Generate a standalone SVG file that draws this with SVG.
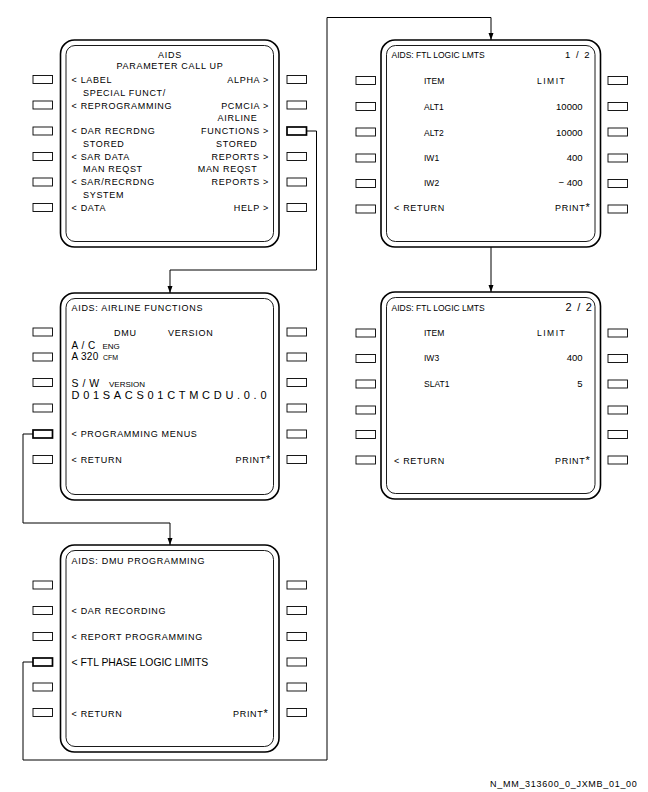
<svg xmlns="http://www.w3.org/2000/svg" width="648" height="792" viewBox="0 0 648 792">
<style>
text{font-family:"Liberation Sans",Arial,sans-serif;fill:#000}
.t{font-size:9px;letter-spacing:0.7px}
.s{font-size:8.5px}
.v{font-size:9.5px}
.e{text-anchor:end}
.m{text-anchor:middle}
.star{font-size:11px}
.outer{fill:#fff;stroke:#000;stroke-width:1.6}
.inner{fill:none;stroke:#000;stroke-width:0.9}
.btn{fill:#fff;stroke:#000;stroke-width:0.9}
.sel{stroke-width:1.7}
.conn{fill:none;stroke:#000;stroke-width:1}
</style>
<defs>
<marker id="arr" markerUnits="userSpaceOnUse" markerWidth="8" markerHeight="6" refX="7" refY="2.5" orient="auto">
<path d="M0,0 L7,2.5 L0,5 z" fill="#000"/>
</marker>
</defs>
<rect width="648" height="792" fill="#fff"/>

<g id="connectors">
<path class="conn" d="M306.5 131 H316.5 V270 H170 V293" marker-end="url(#arr)"/>
<path class="conn" d="M33 434 H23 V523 H170 V545" marker-end="url(#arr)"/>
<path class="conn" d="M33 662 H23 V760 H327 V17.5 H491 V40" marker-end="url(#arr)"/>
<path class="conn" d="M491 247 V292" marker-end="url(#arr)"/>
</g>

<g id="screen-parameter-callup">
<rect class="outer" x="60.5" y="40" width="218.5" height="207" rx="14"/>
<rect class="inner" x="66" y="45.5" width="207.5" height="196" rx="9"/>
<rect class="btn" x="33" y="75.5" width="19.5" height="8"/>
<rect class="btn" x="33" y="101" width="19.5" height="8"/>
<rect class="btn" x="33" y="127" width="19.5" height="8"/>
<rect class="btn" x="33" y="152.5" width="19.5" height="8"/>
<rect class="btn" x="33" y="178" width="19.5" height="8"/>
<rect class="btn" x="33" y="203.5" width="19.5" height="8"/>
<rect class="btn" x="287" y="75.5" width="19.5" height="8"/>
<rect class="btn" x="287" y="101" width="19.5" height="8"/>
<rect class="btn sel" x="287" y="127" width="19.5" height="8"/>
<rect class="btn" x="287" y="152.5" width="19.5" height="8"/>
<rect class="btn" x="287" y="178" width="19.5" height="8"/>
<rect class="btn" x="287" y="203.5" width="19.5" height="8"/>
<text class="t m" x="170" y="57.5">AIDS</text>
<text class="t m" x="170" y="68.5">PARAMETER CALL UP</text>
<text class="t" x="71.5" y="83">&lt; LABEL</text>
<text class="t" x="83" y="95.8">SPECIAL FUNCT/</text>
<text class="t" x="71.5" y="108.5">&lt; REPROGRAMMING</text>
<text class="t" x="71.5" y="134">&lt; DAR RECRDNG</text>
<text class="t" x="83" y="146.8">STORED</text>
<text class="t" x="71.5" y="159.5">&lt; SAR DATA</text>
<text class="t" x="83" y="172.3">MAN REQST</text>
<text class="t" x="71.5" y="185">&lt; SAR/RECRDNG</text>
<text class="t" x="83" y="197.8">SYSTEM</text>
<text class="t" x="71.5" y="210.5">&lt; DATA</text>
<text class="t e" x="269" y="83">ALPHA &gt;</text>
<text class="t e" x="269" y="108.5">PCMCIA &gt;</text>
<text class="t e" x="257.5" y="121.3">AIRLINE</text>
<text class="t e" x="269" y="134">FUNCTIONS &gt;</text>
<text class="t e" x="257.5" y="146.8">STORED</text>
<text class="t e" x="269" y="159.5">REPORTS &gt;</text>
<text class="t e" x="257.5" y="172.3">MAN REQST</text>
<text class="t e" x="269" y="185">REPORTS &gt;</text>
<text class="t e" x="269" y="210.5">HELP &gt;</text>
</g>

<g id="screen-airline-functions">
<rect class="outer" x="60.5" y="293" width="218.5" height="207" rx="14"/>
<rect class="inner" x="66" y="298.5" width="207.5" height="196" rx="9"/>
<rect class="btn" x="33" y="328" width="19.5" height="8"/>
<rect class="btn" x="33" y="353" width="19.5" height="8"/>
<rect class="btn" x="33" y="378.5" width="19.5" height="8"/>
<rect class="btn" x="33" y="404" width="19.5" height="8"/>
<rect class="btn sel" x="33" y="430" width="19.5" height="8"/>
<rect class="btn" x="33" y="455.5" width="19.5" height="8"/>
<rect class="btn" x="287" y="328" width="19.5" height="8"/>
<rect class="btn" x="287" y="353" width="19.5" height="8"/>
<rect class="btn" x="287" y="378.5" width="19.5" height="8"/>
<rect class="btn" x="287" y="404" width="19.5" height="8"/>
<rect class="btn" x="287" y="430" width="19.5" height="8"/>
<rect class="btn" x="287" y="455.5" width="19.5" height="8"/>
<text class="t" x="71.5" y="310.5">AIDS: AIRLINE FUNCTIONS</text>
<text class="t" x="114" y="336">DMU</text>
<text class="t" x="168" y="336">VERSION</text>
<text x="71.5" y="348.5" font-size="10" letter-spacing="0.5">A / C</text>
<text x="102.5" y="348.5" font-size="8">ENG</text>
<text x="71.5" y="360" font-size="10" letter-spacing="0.3">A 320</text>
<text x="103" y="360" font-size="7" fill="#333">CFM</text>
<text x="71.5" y="386.5" font-size="10.5" letter-spacing="0.5">S / W</text>
<text x="109" y="386.5" font-size="8">VERSION</text>
<text x="71.5" y="399" font-size="11" textLength="195" lengthAdjust="spacing">D01SACS01CTMCDU.0.0</text>
<text class="t" x="71.5" y="437">&lt; PROGRAMMING MENUS</text>
<text class="t" x="71.5" y="463">&lt; RETURN</text>
<text class="t e" x="271" y="463">PRINT<tspan class="star">*</tspan></text>
</g>

<g id="screen-dmu-programming">
<rect class="outer" x="60.5" y="545" width="218.5" height="207" rx="14"/>
<rect class="inner" x="66" y="550.5" width="207.5" height="196" rx="9"/>
<rect class="btn" x="33" y="581" width="19.5" height="8"/>
<rect class="btn" x="33" y="606.5" width="19.5" height="8"/>
<rect class="btn" x="33" y="632.5" width="19.5" height="8"/>
<rect class="btn sel" x="33" y="658" width="19.5" height="8"/>
<rect class="btn" x="33" y="683" width="19.5" height="8"/>
<rect class="btn" x="33" y="708.5" width="19.5" height="8"/>
<rect class="btn" x="287" y="581" width="19.5" height="8"/>
<rect class="btn" x="287" y="606.5" width="19.5" height="8"/>
<rect class="btn" x="287" y="632.5" width="19.5" height="8"/>
<rect class="btn" x="287" y="658" width="19.5" height="8"/>
<rect class="btn" x="287" y="683" width="19.5" height="8"/>
<rect class="btn" x="287" y="708.5" width="19.5" height="8"/>
<text class="t" x="71.5" y="563.5">AIDS: DMU PROGRAMMING</text>
<text class="t" x="71.5" y="614">&lt; DAR RECORDING</text>
<text class="t" x="71.5" y="640">&lt; REPORT PROGRAMMING</text>
<text x="71.5" y="666" font-size="10.4">&lt; FTL PHASE LOGIC LIMITS</text>
<text class="t" x="71.5" y="717">&lt; RETURN</text>
<text class="t e" x="268.5" y="717">PRINT<tspan class="star">*</tspan></text>
</g>

<g id="screen-ftl-logic-limits-1">
<rect class="outer" x="381" y="40" width="219.5" height="207" rx="14"/>
<rect class="inner" x="386.5" y="45.5" width="208.5" height="196" rx="9"/>
<rect class="btn" x="356" y="76.5" width="19.5" height="8"/>
<rect class="btn" x="356" y="102.5" width="19.5" height="8"/>
<rect class="btn" x="356" y="128" width="19.5" height="8"/>
<rect class="btn" x="356" y="154" width="19.5" height="8"/>
<rect class="btn" x="356" y="179.5" width="19.5" height="8"/>
<rect class="btn" x="356" y="205" width="19.5" height="8"/>
<rect class="btn" x="608" y="76.5" width="19.5" height="8"/>
<rect class="btn" x="608" y="102.5" width="19.5" height="8"/>
<rect class="btn" x="608" y="128" width="19.5" height="8"/>
<rect class="btn" x="608" y="154" width="19.5" height="8"/>
<rect class="btn" x="608" y="179.5" width="19.5" height="8"/>
<rect class="btn" x="608" y="205" width="19.5" height="8"/>
<text class="s" x="391.5" y="57.5">AIDS: FTL LOGIC LMTS</text>
<text class="e" x="591" y="57.5" font-size="9.5" letter-spacing="1.5">1 / 2</text>
<text class="s" x="424" y="84">ITEM</text>
<text class="s" x="537" y="84" letter-spacing="1.5">LIMIT</text>
<text class="s" x="424" y="110">ALT1</text>
<text class="v e" x="582.5" y="110">10000</text>
<text class="s" x="424" y="135.5">ALT2</text>
<text class="v e" x="582.5" y="135.5">10000</text>
<text class="s" x="424" y="161">IW1</text>
<text class="v e" x="582.5" y="161">400</text>
<text class="s" x="424" y="186">IW2</text>
<text class="v e" x="582.5" y="186">− 400</text>
<text class="t" x="394" y="211" letter-spacing="0.5">&lt; RETURN</text>
<text class="t e" x="590.5" y="211">PRINT<tspan class="star">*</tspan></text>
</g>

<g id="screen-ftl-logic-limits-2">
<rect class="outer" x="381" y="292" width="219.5" height="207" rx="14"/>
<rect class="inner" x="386.5" y="297.5" width="208.5" height="196" rx="9"/>
<rect class="btn" x="356" y="329" width="19.5" height="8"/>
<rect class="btn" x="356" y="354.5" width="19.5" height="8"/>
<rect class="btn" x="356" y="380" width="19.5" height="8"/>
<rect class="btn" x="356" y="406" width="19.5" height="8"/>
<rect class="btn" x="356" y="430.5" width="19.5" height="8"/>
<rect class="btn" x="356" y="456" width="19.5" height="8"/>
<rect class="btn" x="608" y="329" width="19.5" height="8"/>
<rect class="btn" x="608" y="354.5" width="19.5" height="8"/>
<rect class="btn" x="608" y="380" width="19.5" height="8"/>
<rect class="btn" x="608" y="406" width="19.5" height="8"/>
<rect class="btn" x="608" y="430.5" width="19.5" height="8"/>
<rect class="btn" x="608" y="456" width="19.5" height="8"/>
<text class="s" x="391.5" y="311">AIDS: FTL LOGIC LMTS</text>
<text class="e" x="593" y="311" font-size="11" letter-spacing="1.2">2 / 2</text>
<text class="s" x="424" y="336">ITEM</text>
<text class="s" x="537" y="336" letter-spacing="1.5">LIMIT</text>
<text class="s" x="424" y="361">IW3</text>
<text class="v e" x="582.5" y="361">400</text>
<text class="s" x="424" y="387">SLAT1</text>
<text class="v e" x="582.5" y="387">5</text>
<text class="t" x="394" y="463.5" letter-spacing="0.5">&lt; RETURN</text>
<text class="t e" x="590.5" y="463.5">PRINT<tspan class="star">*</tspan></text>
</g>

<text class="t e" x="637.5" y="787">N_MM_313600_0_JXMB_01_00</text>
</svg>
